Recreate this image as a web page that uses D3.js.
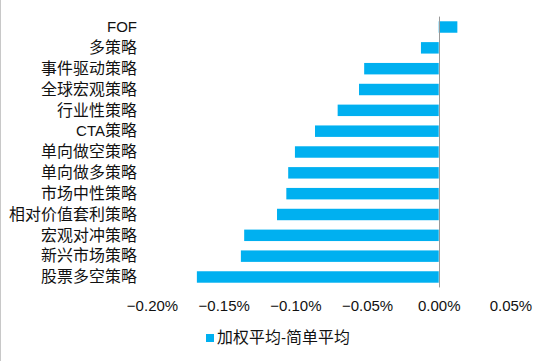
<!DOCTYPE html>
<html>
<head>
<meta charset="utf-8">
<script src="https://cdn.jsdelivr.net/npm/d3@7"></script>
<style>
  @font-face {
    font-family: "CJKWide";
    src: local("Noto Sans CJK SC"), local("NotoSansCJKsc-Regular"), local("Noto Sans CJK SC Regular");
    size-adjust: 106%;
  }
  body { margin: 0; background: #fff; }
  svg text { font-family: "Liberation Sans", Arial, "CJKWide", "Noto Sans CJK SC", sans-serif; fill: #111; }
</style>
</head>
<body>
<div id="chart"></div>
<script>
// strategy categories, top to bottom
const categories = [
  'FOF', '多策略', '事件驱动策略', '全球宏观策略', '行业性策略', 'CTA策略',
  '单向做空策略', '单向做多策略', '市场中性策略', '相对价值套利策略',
  '宏观对冲策略', '新兴市场策略', '股票多空策略'
];
// 加权平均-简单平均, in percent
const diffValues = [
  0.013, -0.0124, -0.052, -0.0556, -0.0705, -0.0863,
  -0.1003, -0.105, -0.1063, -0.1128, -0.1357, -0.138, -0.1687
];
const xTicks = [-0.2, -0.15, -0.1, -0.05, 0, 0.05];
const seriesName = '加权平均-简单平均';

const width = 550;
const height = 361;
const color = '#00B0F0';

const svg = d3.select('#chart')
  .append('svg')
  .attr('width', width)
  .attr('height', height);

// thin frame edge on the left
svg.append('line')
  .attr('x1', 0.5).attr('x2', 0.5)
  .attr('y1', 0).attr('y2', height)
  .attr('stroke', '#c8c8c8');

const x = d3.scaleLinear()
  .domain([-0.2, 0.05])
  .range([152, 510.4]);

const y = d3.scaleBand()
  .domain(categories)
  .range([16.6, 287.4])
  .paddingInner(0.45)
  .paddingOuter(0.225);

const data = categories.map((c, i) => ({ name: c, value: diffValues[i] }));

svg.append('g')
  .selectAll('rect')
  .data(data)
  .join('rect')
  .attr('x', d => x(Math.min(0, d.value)))
  .attr('width', d => Math.abs(x(d.value) - x(0)))
  .attr('y', d => y(d.name))
  .attr('height', y.bandwidth())
  .attr('fill', color);

// zero line
svg.append('line')
  .attr('x1', Math.round(x(0)) + 0.5)
  .attr('x2', Math.round(x(0)) + 0.5)
  .attr('y1', y.range()[0])
  .attr('y2', y.range()[1])
  .attr('stroke', '#999');

// category labels
svg.append('g')
  .selectAll('text')
  .data(categories)
  .join('text')
  .attr('x', 137)
  .attr('y', d => y(d) + y.bandwidth() / 2)
  .attr('dy', '0.35em')
  .attr('text-anchor', 'end')
  .style('font-size', '15px')
  .text(d => d);

// x axis labels (no line, no ticks)
const xAxis = svg.append('g')
  .attr('transform', 'translate(0, 300)')
  .call(d3.axisBottom(x).tickValues(xTicks).tickSize(0).tickPadding(0)
    .tickFormat(d => d3.format('.2f')(d) + '%'));
xAxis.select('.domain').remove();
xAxis.selectAll('text')
  .attr('dy', '0.35em')
  .attr('y', 6)
  .style('font-size', '15px')
  .style('font-family', '"Liberation Sans", Arial, sans-serif')
  .attr('fill', '#111');

// legend
const legend = svg.append('g').attr('transform', 'translate(206, 338)');
legend.append('rect')
  .attr('x', 0).attr('y', -4)
  .attr('width', 8).attr('height', 8)
  .attr('fill', color);
legend.append('text')
  .attr('x', 11)
  .attr('y', 0)
  .attr('dy', '0.35em')
  .style('font-size', '15px')
  .text(seriesName);
</script>
</body>
</html>
